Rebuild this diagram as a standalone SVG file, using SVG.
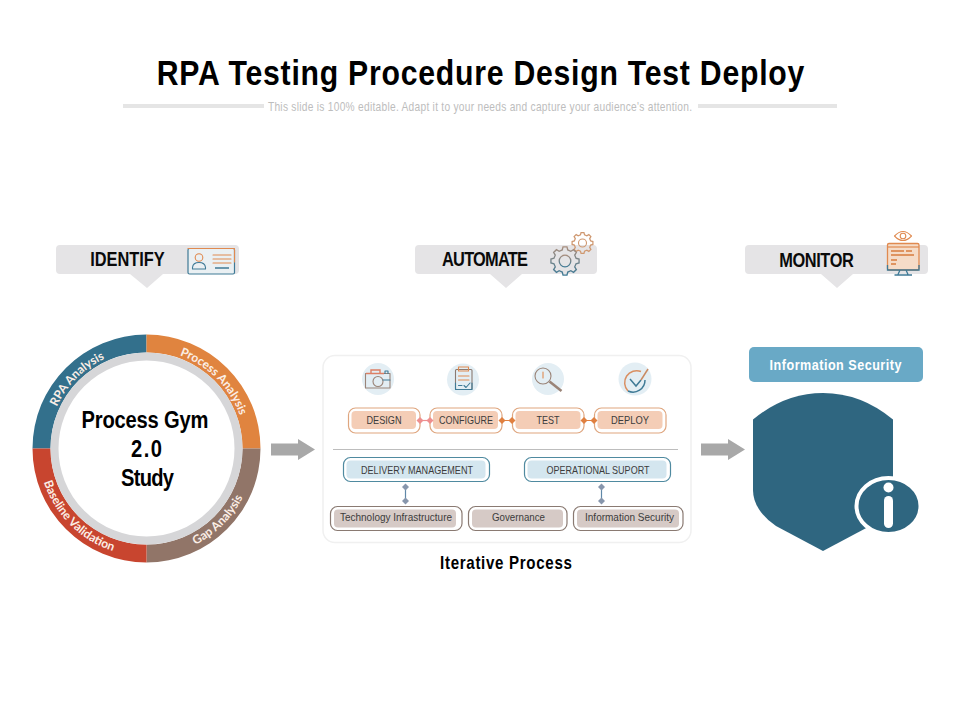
<svg xmlns="http://www.w3.org/2000/svg" width="960" height="720" viewBox="0 0 960 720">
<style>
text{font-family:"Liberation Sans",Arial,sans-serif;text-anchor:middle}
.b{font-weight:700;fill:#000}
.call{fill:#e5e4e6}
.head{font-size:20px;font-weight:700;fill:#0a0a0a}
.ring{font-family:Lato,"Liberation Sans",sans-serif;font-size:12px;font-weight:700;fill:#fbeee6}
.st{font-size:11.5px;fill:#3c3c3c}
.o1{fill:#fff;stroke:#dfa67f;stroke-width:1.2}.i1{fill:#f4cdb6}
.o2{fill:#fff;stroke:#4f8aa0;stroke-width:1.2}.i2{fill:#d4e6ef}
.o3{fill:#fff;stroke:#8a7a72;stroke-width:1.2}.i3{fill:#d6cac6}
.bub{fill:#e3eef4}
.ln{fill:none;stroke-width:1.1;stroke-linecap:round;stroke-linejoin:round}
.te{stroke:#3f7a96}.or{stroke:#e08a50}.br{stroke:#9a8478}
.ar{fill:#a8a8a8}
</style>
<defs>
<linearGradient id="gearG" x1="0" y1="0" x2="0" y2="1"><stop offset="0" stop-color="#a88e7e"/><stop offset="1" stop-color="#3f7a96"/></linearGradient>
<path id="gear" d="M7.76-1.94 9.9-1.39 9.9 1.39 7.76 1.94 6.86 4.12 7.99 6.02 6.02 7.99 4.12 6.86 1.94 7.76 1.39 9.9-1.39 9.9-1.94 7.76-4.12 6.86-6.02 7.99-7.99 6.02-6.86 4.12-7.76 1.94-9.9 1.39-9.9-1.39-7.76-1.94-6.86-4.12-7.99-6.02-6.02-7.99-4.12-6.86-1.94-7.76-1.39-9.9 1.39-9.9 1.94-7.76 4.12-6.86 6.02-7.99 7.99-6.02 6.86-4.12Z"/>
<path id="ringTL" d="M47.500 448.500A99 99 0 0 1 146.500 349.500"/>
<path id="ringTR" d="M146.500 349.500A99 99 0 0 1 245.500 448.500"/>
<path id="ringBL" d="M38.500 448.500A108 108 0 0 0 146.500 556.500"/>
<path id="ringBR" d="M146.500 556.500A108 108 0 0 0 254.500 448.500"/>
<polygon id="dia" points="0,-3.5 3.5,0 0,3.5 -3.5,0"/>
</defs>
<rect width="960" height="720" fill="#fff"/>

<g id="title">
<text class="b" transform="translate(480.500 85) scale(.84 1)" font-size="36" textLength="771" lengthAdjust="spacing">RPA Testing Procedure Design Test Deploy</text>
<rect x="123" y="104" width="141" height="4" fill="#e5e5e5"/>
<rect x="698" y="104" width="139" height="4" fill="#e5e5e5"/>
<text transform="translate(480 111) scale(.85 1)" font-size="12" fill="#bdbdbd" textLength="499" lengthAdjust="spacing">This slide is 100% editable. Adapt it to your needs and capture your audience's attention.</text>
</g>

<g id="identify">
<path class="call" d="M60 245H235a4 4 0 0 1 4 4V270a4 4 0 0 1-4 4H163L147 288 130 274H60a4 4 0 0 1-4-4V249a4 4 0 0 1 4-4Z"/>
<text class="head" transform="translate(127.500 266) scale(.82 1)" textLength="91" lengthAdjust="spacing">IDENTIFY</text>
<rect x="188" y="248.500" width="46.500" height="25.500" rx="1.500" fill="#eaf0f3" stroke="#3f7a96" stroke-width="1.200"/>
<path class="ln or" d="M188 248.500H234.500V262"/>
<circle class="ln or" cx="199" cy="257.500" r="3.800"/>
<path class="ln te" d="M192.500 269V267.500Q193 262.500 199 262.500T205.500 267.500V269Z"/>
<path class="ln or" d="M213 255H231M213 259H231M213 263H231"/>
<path class="te" fill="none" stroke-width="1.500" d="M215 268H229"/>
</g>

<g id="automate">
<path class="call" d="M419 245H593a4 4 0 0 1 4 4V270a4 4 0 0 1-4 4H522L506 288 490 274H419a4 4 0 0 1-4-4V249a4 4 0 0 1 4-4Z"/>
<text class="head" transform="translate(485 266) scale(.82 1)" textLength="105" lengthAdjust="spacing">AUTOMATE</text>
<use href="#gear" transform="translate(582.500 243) scale(1.050)" fill="none" stroke="#cf9870" stroke-width="1.200"/>
<circle class="ln" cx="582.500" cy="243" r="4" stroke="#cf9870"/>
<use href="#gear" transform="translate(565 261) scale(1.420)" fill="#e5e4e6" stroke="url(#gearG)" stroke-width=".95"/>
<circle cx="565" cy="261" r="5.800" fill="none" stroke="url(#gearG)" stroke-width="1.300"/>
</g>

<g id="monitor">
<path class="call" d="M749 245H924a4 4 0 0 1 4 4V270a4 4 0 0 1-4 4H853L837 288 821 274H749a4 4 0 0 1-4-4V249a4 4 0 0 1 4-4Z"/>
<text class="head" transform="translate(816.500 267) scale(.82 1)" textLength="91" lengthAdjust="spacing">MONITOR</text>
<path class="ln or" stroke-width="1.300" d="M894.500 236Q903 227 911.500 236 903 245 894.500 236Z"/>
<circle class="ln or" cx="903" cy="236" r="2.800"/>
<rect x="887.500" y="243.500" width="31.500" height="26.500" rx="1.500" fill="#f5dcc8" stroke="#e08a50" stroke-width="1.300"/>
<path fill="none" stroke="#e08a50" stroke-width="1.200" d="M888 247H919"/>
<path fill="none" stroke="#d87c3e" stroke-width="1.400" d="M891 251H904M906 251H912M891 255H914M891 260H897M891 264H896"/>
<path class="te" fill="none" stroke-width="1.300" d="M887.500 265V270H919V265M900 270 898 274.500M906 270 908 274.500M894.500 275H912"/>
</g>

<g id="process-ring">
<path fill="#33708c" d="M32.500 448.500A114 114 0 0 1 146.500 334.500V352.500A96 96 0 0 0 50.500 448.500Z"/>
<path fill="#e0843f" d="M146.500 334.500A114 114 0 0 1 260.500 448.500H242.500A96 96 0 0 0 146.500 352.500Z"/>
<path fill="#917568" d="M260.500 448.500A114 114 0 0 1 146.500 562.500V544.500A96 96 0 0 0 242.500 448.500Z"/>
<path fill="#c8452f" d="M146.500 562.500A114 114 0 0 1 32.500 448.500H50.500A96 96 0 0 0 146.500 544.500Z"/>
<circle cx="146.500" cy="448.500" r="92" fill="#fff" stroke="#d6d6d8" stroke-width="8"/>
<text class="ring"><textPath href="#ringTL" startOffset="50%">RPA Analysis</textPath></text>
<text class="ring"><textPath href="#ringTR" startOffset="50%">Process Analysis</textPath></text>
<text class="ring"><textPath href="#ringBL" startOffset="50%">Baseline Validation</textPath></text>
<text class="ring"><textPath href="#ringBR" startOffset="50%">Gap Analysis</textPath></text>
<text class="b" transform="translate(145 428) scale(.84 1)" font-size="24" textLength="151" lengthAdjust="spacing">Process Gym</text>
<text class="b" transform="translate(146.500 457) scale(.84 1)" font-size="24" textLength="37" lengthAdjust="spacing">2.0</text>
<text class="b" transform="translate(147.500 486) scale(.84 1)" font-size="24" textLength="63" lengthAdjust="spacing">Study</text>
</g>

<g id="iterative-panel">
<rect x="323" y="355.500" width="368" height="187" rx="12" fill="#fff" stroke="#f0f0f0" stroke-width="1.500"/>
<path d="M333 449.500H678" stroke="#bdbdbd" stroke-width="1"/>
<text class="b" transform="translate(506 569) scale(.84 1)" font-size="18" textLength="157" lengthAdjust="spacing">Iterative Process</text>
</g>

<g id="icon-design">
<circle class="bub" cx="378" cy="379" r="16"/>
<path class="ln br" d="M365.500 373.500H390V388H365.500Z"/>
<path fill="none" stroke="#dd7f64" stroke-width="1.400" d="M366 373.500H384M371 373V370H380V373"/>
<circle class="ln br" cx="378" cy="381.500" r="5"/>
<path class="ln te" d="M383 380H390M385 373.500V371H388V373.500"/>
</g>
<g id="icon-configure">
<circle class="bub" cx="463" cy="379.500" r="16"/>
<rect class="ln" x="455.500" y="369.500" width="16.500" height="20" rx="1" fill="#f3ece6" stroke="#8a7a72"/>
<path class="ln te" d="M455.500 383V389.500H472V383"/>
<path class="ln or" d="M458.500 369.500V367H468.500V371H458.500V369.500M458.500 376H469M458.500 380H469"/>
<path class="ln te" d="M458.500 385.500H462M464 385.500 466 387.500 470 383"/>
</g>
<g id="icon-test">
<circle class="bub" cx="548" cy="379" r="16"/>
<circle class="ln br" cx="543" cy="376" r="8"/>
<path class="ln or" d="M543 372V378"/>
<path fill="none" stroke="#9a8478" stroke-width="2.600" d="M549.500 381.500 561.500 391"/>
</g>
<g id="icon-deploy">
<circle class="bub" cx="635" cy="379" r="16.500"/>
<path fill="none" stroke="#d98f62" stroke-width="1.500" d="M641 371.500A12 12 0 0 0 628 391"/>
<path fill="none" stroke="#3f7a96" stroke-width="1.500" d="M628 391A12 12 0 0 0 645 380"/>
<path fill="none" stroke="#3f7a96" stroke-width="1.500" d="M630 379 636 386 641 380"/>
<path fill="none" stroke="#c98a62" stroke-width="1.500" d="M641 380 648 369"/>
</g>

<g id="node-design">
<rect class="o1" x="348.500" y="408" width="71.500" height="25" rx="7"/>
<rect class="i1" x="351.500" y="411" width="64.500" height="18" rx="4"/>
<text class="st" x="384" y="424" textLength="35" lengthAdjust="spacingAndGlyphs">DESIGN</text>
</g>
<g id="node-configure">
<rect class="o1" x="430" y="408" width="72" height="25" rx="7"/>
<rect class="i1" x="433" y="411" width="65" height="18" rx="4"/>
<text class="st" x="466" y="424" textLength="54" lengthAdjust="spacingAndGlyphs">CONFIGURE</text>
</g>
<g id="node-test">
<rect class="o1" x="512.500" y="408" width="71.500" height="25" rx="7"/>
<rect class="i1" x="515.500" y="411" width="65" height="18" rx="4"/>
<text class="st" x="548" y="424" textLength="23" lengthAdjust="spacingAndGlyphs">TEST</text>
</g>
<g id="node-deploy">
<rect class="o1" x="594.500" y="408" width="71.500" height="25" rx="7"/>
<rect class="i1" x="597.500" y="411" width="65" height="18" rx="4"/>
<text class="st" x="630" y="424" textLength="38" lengthAdjust="spacingAndGlyphs">DEPLOY</text>
</g>
<g id="node-delivery">
<rect class="o2" x="343.500" y="457.500" width="146" height="24" rx="7"/>
<rect class="i2" x="346.500" y="460.500" width="139" height="18" rx="4"/>
<text class="st" x="417" y="474" textLength="112" lengthAdjust="spacingAndGlyphs">DELIVERY MANAGEMENT</text>
</g>
<g id="node-operational">
<rect class="o2" x="524.500" y="457.500" width="146" height="24" rx="7"/>
<rect class="i2" x="527.500" y="460.500" width="139" height="18" rx="4"/>
<text class="st" x="598" y="474" textLength="103" lengthAdjust="spacingAndGlyphs">OPERATIONAL SUPORT</text>
</g>
<g id="node-technology">
<rect class="o3" x="330.500" y="506.500" width="131.500" height="24" rx="7"/>
<rect class="i3" x="334" y="509.500" width="122" height="18" rx="4"/>
<text class="st" x="396" y="521" textLength="112" lengthAdjust="spacingAndGlyphs">Technology Infrastructure</text>
</g>
<g id="node-governance">
<rect class="o3" x="468.500" y="506.500" width="98.500" height="24" rx="7"/>
<rect class="i3" x="472" y="509.500" width="91" height="18" rx="4"/>
<text class="st" x="518.500" y="521" textLength="53" lengthAdjust="spacingAndGlyphs">Governance</text>
</g>
<g id="node-infosec">
<rect class="o3" x="573.500" y="506.500" width="109.500" height="24" rx="7"/>
<rect class="i3" x="577" y="509.500" width="102" height="18" rx="4"/>
<text class="st" x="629.500" y="521" textLength="89" lengthAdjust="spacingAndGlyphs">Information Security</text>
</g>

<g id="connectors">
<path d="M420 420.500H430" stroke="#ee8f8f" stroke-width="1.200"/>
<use href="#dia" x="420" y="420.500" fill="#ee8f8f"/><use href="#dia" x="430" y="420.500" fill="#ee8f8f"/>
<path d="M502 420.500H512M584 420.500H594" stroke="#e08040" stroke-width="1.200"/>
<use href="#dia" x="502" y="420.500" fill="#e08040"/><use href="#dia" x="512" y="420.500" fill="#e08040"/>
<use href="#dia" x="584" y="420.500" fill="#e08040"/><use href="#dia" x="594" y="420.500" fill="#e08040"/>
<path d="M405.500 487V501M601.500 487V501" stroke="#5f88a8" stroke-width="1.200"/>
<use href="#dia" x="405.500" y="487" fill="#8796ac"/><use href="#dia" x="405.500" y="501" fill="#8796ac"/>
<use href="#dia" x="601.500" y="487" fill="#8796ac"/><use href="#dia" x="601.500" y="501" fill="#8796ac"/>
<path class="ar" d="M271 443.500H298V439L315 449.500 298 460V455.500H271Z"/>
<path class="ar" d="M701 443.500H728V439L745 449.500 728 460V455.500H701Z"/>
</g>

<g id="information-security">
<rect x="749" y="347" width="174" height="35" rx="5" fill="#69a9c6"/>
<text transform="translate(835.500 370) scale(.84 1)" font-size="15" font-weight="700" fill="#fff" textLength="157" lengthAdjust="spacing">Information Security</text>
<path fill="#2f6680" d="M753 419.500Q785 393 823 393T893 419.500V490Q893 510 870 526L823 551 776 526Q753 510 753 490Z"/>
<ellipse cx="888.500" cy="506" rx="32" ry="28" fill="#2f6680" stroke="#fff" stroke-width="4"/>
<circle cx="888.500" cy="487.500" r="5" fill="#fff"/>
<rect x="884" y="496" width="9" height="32" rx="4.500" fill="#fff"/>
</g>
</svg>
